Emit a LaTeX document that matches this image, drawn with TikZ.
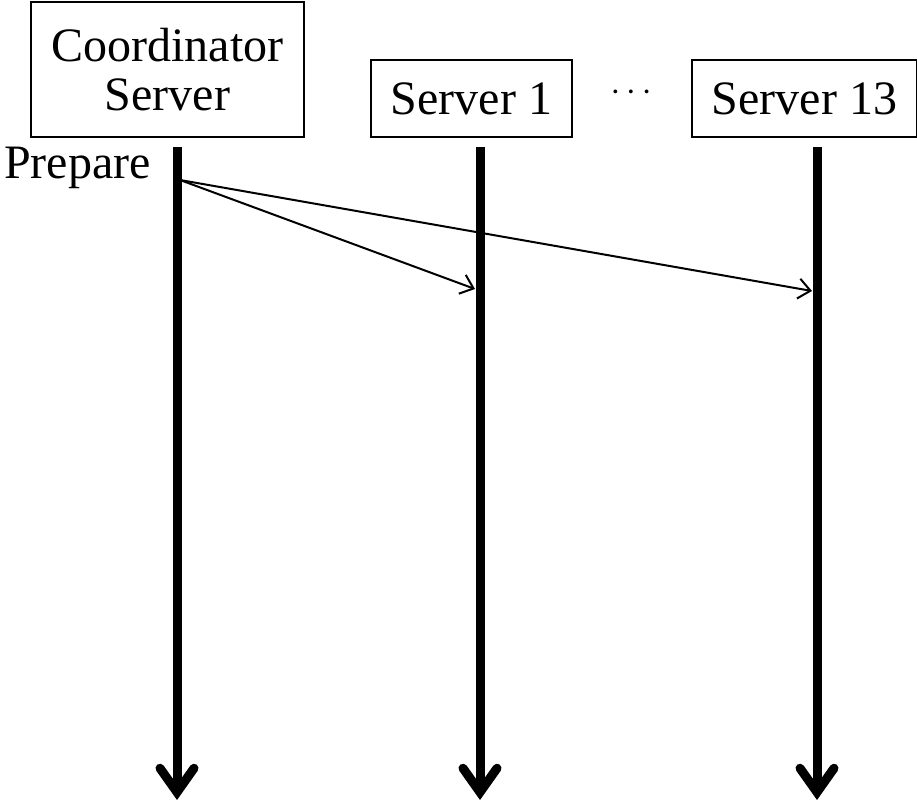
\documentclass[tikz,border=0pt]{standalone}
\usepackage{fontspec}
\setmainfont{Liberation Serif}
\usepackage{tikz}
\usetikzlibrary{arrows.meta, calc, positioning}
\tikzset{
    boxnode/.style = {draw, rectangle, line width=2pt, inner sep=0pt, node distance=0em,
      font=\fontsize{48}{49}\selectfont},
    textnode/.style = {draw=none, fill=none, rectangle, inner sep=0pt, node distance=0em,
      font=\fontsize{48}{49}\selectfont},
    lifeline/.style = {line width=9pt, -{Straight Barb[length=24pt, width=34pt, line cap=round]}},
    message/.style = {line width=2pt, -{Straight Barb[length=12pt, width=20pt]}},
    every text node part/.style={align=center}
}
\newcommand{\dotsgap}{\kern5pt}

\begin{document}
\begin{tikzpicture}[x=1pt, y=-1pt]
\useasboundingbox (0,0) rectangle (917,801);

\node [boxnode, name=coord, minimum width=273pt, minimum height=135pt] at (167.5,69.5)
    {Coordinator\\Server};
\node [boxnode, name=server1, minimum width=201pt, minimum height=77pt,
    right of = coord, xshift=304pt, yshift=-29pt] {Server 1};
\node [boxnode, name=server13, minimum width=225pt, minimum height=77pt,
    right of = server1, xshift=333pt] {Server 13};
\node [textnode, name=dots, font=\fontsize{32}{32}\selectfont] at (631,96)
    {\textperiodcentered\dotsgap\textperiodcentered\dotsgap\textperiodcentered};

% lifelines
\coordinate (ctop) at (177,147);
\coordinate (cend) at (177,800);
\coordinate (s1top) at (480,147);
\coordinate (s1end) at (480,800);
\coordinate (s13top) at (817,147);
\coordinate (s13end) at (817,800);
\draw [lifeline] (ctop) -- (cend);
\draw [lifeline] (s1top) -- (s1end);
\draw [lifeline] (s13top) -- (s13end);

% prepare messages
\node [textnode, name=prepare, anchor=base east] at (151,178) {Prepare};
\coordinate (send) at (180,180);
\coordinate (s1recv) at (475,289);
\coordinate (s13recv) at (812,291);
\draw [message] (send) -- (s1recv);
\draw [message] (send) -- (s13recv);
\end{tikzpicture}
\end{document}
